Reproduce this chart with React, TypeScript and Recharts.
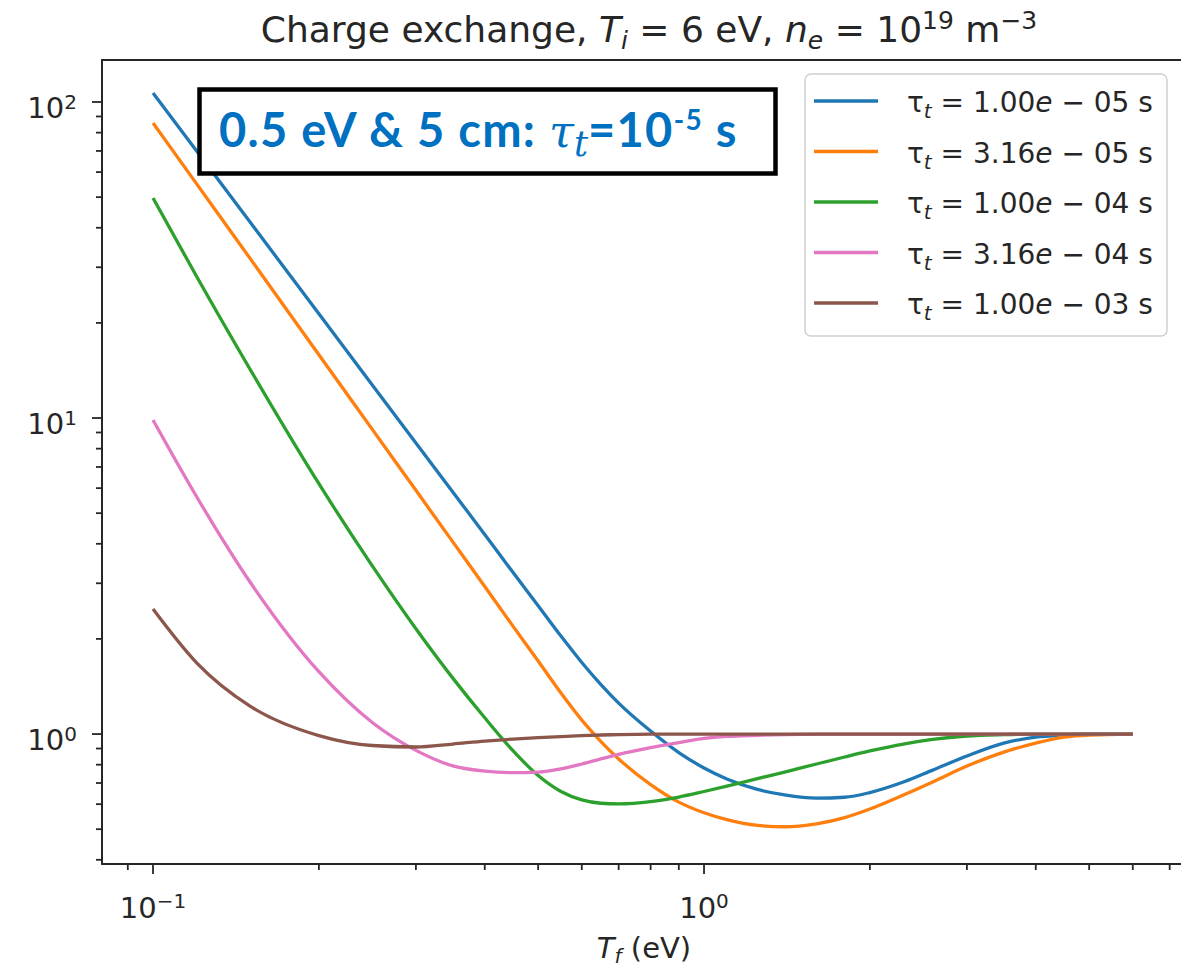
import React from "react";
import { LineChart, Line, XAxis, YAxis, Legend, ReferenceArea } from "recharts";

// ---- data ----
const tfValues = [0.1, 0.12, 0.15, 0.2, 0.25, 0.3, 0.35, 0.4, 0.45, 0.5, 0.55, 0.6, 0.65, 0.7, 0.8, 0.9, 1.0, 1.1, 1.25, 1.4, 1.6, 1.8, 2.0, 2.3, 2.6, 3.0, 3.5, 4.0, 4.5, 5.0, 6.0];
const ratioTau1e5 = [106.8, 69.98, 41.7, 21.37, 12.73, 8.34, 5.834, 4.28, 3.249, 2.549, 2.042, 1.685, 1.434, 1.253, 1.022, 0.874, 0.781, 0.721, 0.668, 0.642, 0.627, 0.631, 0.653, 0.705, 0.769, 0.852, 0.936, 0.978, 0.993, 1.0, 1.0];
const ratioTau316e5 = [85.8, 55.06, 32.0, 15.85, 9.205, 5.905, 4.057, 2.931, 2.195, 1.702, 1.348, 1.107, 0.947, 0.834, 0.692, 0.609, 0.5636, 0.536, 0.514, 0.509, 0.52, 0.544, 0.579, 0.641, 0.705, 0.792, 0.877, 0.936, 0.978, 0.993, 1.0];
const ratioTau1e4 = [49.7, 28.04, 14.27, 6.196, 3.404, 2.154, 1.503, 1.126, 0.886, 0.739, 0.658, 0.619, 0.604, 0.601, 0.611, 0.632, 0.658, 0.684, 0.723, 0.758, 0.804, 0.846, 0.884, 0.93, 0.962, 0.986, 0.996, 1.0, 1.0, 1.0, 1.0];
const ratioTau316e4 = [9.856, 5.636, 3.027, 1.575, 1.088, 0.888, 0.793, 0.763, 0.755, 0.758, 0.776, 0.804, 0.835, 0.863, 0.906, 0.94, 0.969, 0.983, 0.991, 0.996, 0.999, 1.0, 1.0, 1.0, 1.0, 1.0, 1.0, 1.0, 1.0, 1.0, 1.0];
const ratioTau1e3 = [2.487, 1.681, 1.226, 0.989, 0.92, 0.91, 0.93, 0.95, 0.964, 0.974, 0.982, 0.988, 0.993, 0.996, 0.999, 1.0, 1.0, 1.0, 1.0, 1.0, 1.0, 1.0, 1.0, 1.0, 1.0, 1.0, 1.0, 1.0, 1.0, 1.0, 1.0];

const seriesValues = [ratioTau1e5, ratioTau316e5, ratioTau1e4, ratioTau316e4, ratioTau1e3];
const tauMantissa = ["1.00", "3.16", "1.00", "3.16", "1.00"];
const tauExponent = ["05", "05", "04", "04", "03"];
const seriesColors = ["#1f77b4", "#ff7f0e", "#2ca02c", "#e377c2", "#8c564b"];

const xMajorTicks = [0.1, 1];
const xMinorTicks = [0.09, 0.2, 0.3, 0.4, 0.5, 0.6, 0.7, 0.8, 0.9, 2, 3, 4, 5, 6, 7];
const yMajorTicks = [1, 10, 100];
const yMinorTicks = [0.4, 0.5, 0.6, 0.7, 0.8, 0.9, 2, 3, 4, 5, 6, 7, 8, 9, 20, 30, 40, 50, 60, 70, 80, 90];
const xDomain = [0.0808, 7.37];
const yDomain = [0.388, 135.8];

const data = tfValues.map((x, i) => {
  const row: Record<string, number> = { x };
  seriesValues.forEach((s, k) => {
    row["s" + k] = s[i];
  });
  return row;
});

const FONT = "'DejaVu Sans', sans-serif";
const INK = "#262626";
const TICK_FONT = 29;
const SUP_FONT = 20;

const supExp = (v: number) => {
  const e = Math.round(Math.log10(v));
  return e < 0 ? "\u2212" + Math.abs(e) : String(e);
};

const XTick = (props: any) => {
  const { x, y, payload } = props;
  const v = payload.value;
  const major = xMajorTicks.includes(v);
  return (
    <g>
      <line x1={x} x2={x} y1={y} y2={y + (major ? 10 : 6)} stroke={INK} strokeWidth={1.8} />
      {major && (
        <text x={x} y={y + 54} textAnchor="middle" fontFamily={FONT} fontSize={TICK_FONT} fill={INK}>
          10
          <tspan dy={-10} fontSize={SUP_FONT}>{supExp(v)}</tspan>
        </text>
      )}
    </g>
  );
};

const YTick = (props: any) => {
  const { x, y, payload } = props;
  const v = payload.value;
  const major = yMajorTicks.includes(v);
  return (
    <g>
      <line x1={x} x2={x - (major ? 10 : 6)} y1={y} y2={y} stroke={INK} strokeWidth={1.8} />
      {major && (
        <text x={x - 25} y={y + 16} textAnchor="end" fontFamily={FONT} fontSize={TICK_FONT} fill={INK}>
          10
          <tspan dy={-9} fontSize={SUP_FONT}>{supExp(v)}</tspan>
        </text>
      )}
    </g>
  );
};

const LegendBox = (props: any) => {
  const payload = [...(props.payload || [])].sort(
    (a: any, b: any) => Number(String(a.dataKey).slice(1)) - Number(String(b.dataKey).slice(1))
  );
  const rowGap = 50.5;
  return (
    <svg width={366} height={266} style={{ display: "block" }}>
      <rect x={1} y={1} width={362} height={262} rx={6} ry={6} fill="#ffffff" fillOpacity={0.8} stroke="#d0d0d0" strokeWidth={1.5} />
      {payload.map((entry: any, i: number) => {
        const k = Number(String(entry.dataKey).slice(1));
        const cy = 28 + i * rowGap;
        return (
          <g key={k}>
            <line x1={10} x2={74} y1={cy} y2={cy} stroke={entry.color} strokeWidth={3.3} />
            <text x={103} y={cy + 11} fontFamily={FONT} fontSize={28} fill={INK}>
              τ
              <tspan dy={6} fontSize={20} fontStyle="italic">t</tspan>
              <tspan dy={-6}>{" = " + tauMantissa[k]}</tspan>
              <tspan fontStyle="italic">e</tspan>
              <tspan>{" \u2212 " + tauExponent[k] + " s"}</tspan>
            </text>
          </g>
        );
      })}
    </svg>
  );
};

export default function App() {
  return (
    <div style={{ position: "absolute", left: 0, top: 0, width: 1181, height: 971, overflow: "hidden", background: "#fff" }}>
      <div style={{ position: "absolute", left: 0, top: 0 }}>
        <LineChart width={1200} height={971} data={data} margin={{ top: 60, right: 18, bottom: 47, left: 0 }}>
          <XAxis
            dataKey="x"
            type="number"
            scale="log"
            domain={xDomain}
            allowDataOverflow
            ticks={[...xMinorTicks, ...xMajorTicks]}
            interval={0}
            tick={<XTick />}
            tickLine={false}
            tickSize={0}
            tickMargin={0}
            height={60}
            axisLine={{ stroke: INK, strokeWidth: 1.8 }}
          />
          <YAxis
            type="number"
            scale="log"
            domain={yDomain}
            allowDataOverflow
            ticks={[...yMinorTicks, ...yMajorTicks]}
            interval={0}
            tick={<YTick />}
            tickLine={false}
            tickSize={0}
            tickMargin={0}
            width={102}
            axisLine={{ stroke: INK, strokeWidth: 1.8 }}
          />
          <ReferenceArea x1={xDomain[0]} x2={xDomain[1]} y1={yDomain[0]} y2={yDomain[1]} fill="none" stroke={INK} strokeWidth={1.8} ifOverflow="visible" />
          {seriesValues.map((_, k) => (
            <Line
              key={k}
              dataKey={"s" + k}
              name={`τt = ${tauMantissa[k]}e − ${tauExponent[k]} s`}
              stroke={seriesColors[k]}
              strokeWidth={3.3}
              dot={false}
              type="monotone"
              isAnimationActive={false}
            />
          ))}
          <Legend
            layout="horizontal"
            verticalAlign="middle"
            align="center"
            content={<LegendBox />}
            wrapperStyle={{ position: "absolute", left: 804, top: 73, width: 366, height: 266 }}
          />
        </LineChart>
      </div>
      <svg width={1181} height={971} style={{ position: "absolute", left: 0, top: 0, pointerEvents: "none" }}>
        <text x={649} y={42} textAnchor="middle" fontFamily={FONT} fontSize={36} fill={INK}>
          {"Charge exchange, "}
          <tspan fontStyle="italic">T</tspan>
          <tspan fontStyle="italic" dy={7} fontSize={25}>i</tspan>
          <tspan dy={-7}>{" = 6 eV, "}</tspan>
          <tspan fontStyle="italic">n</tspan>
          <tspan fontStyle="italic" dy={7} fontSize={25}>e</tspan>
          <tspan dy={-7}>{" = 10"}</tspan>
          <tspan dy={-13} fontSize={25}>19</tspan>
          <tspan dy={13}>{" m"}</tspan>
          <tspan dy={-13} fontSize={25}>{"\u22123"}</tspan>
        </text>
        <text x={644} y={958} textAnchor="middle" fontFamily={FONT} fontSize={TICK_FONT} fill={INK}>
          <tspan fontStyle="italic">T</tspan>
          <tspan fontStyle="italic" dy={5} fontSize={SUP_FONT}>f</tspan>
          <tspan dy={-5}>{" (eV)"}</tspan>
        </text>
        <rect x={199.5} y={89.5} width={576} height={84} fill="#ffffff" stroke="#000000" strokeWidth={4.5} />
        <text x={219} y={147} fontFamily="Lato, sans-serif" fontWeight="bold" fontSize={47} letterSpacing={1.3} fill="#0070C0">
          {"0.5 eV & 5 cm: "}
          <tspan fontFamily="'DejaVu Serif', serif" fontStyle="italic" fontWeight="normal" fontSize={45} letterSpacing={0}>τ</tspan>
          <tspan fontFamily="'DejaVu Serif', serif" fontStyle="italic" fontWeight="normal" dy={9} fontSize={35} letterSpacing={0}>t</tspan>
          <tspan dy={-9}>=10</tspan>
          <tspan dy={-17} fontSize={28}>-5</tspan>
          <tspan dy={17}>{" s"}</tspan>
        </text>
      </svg>
    </div>
  );
}
